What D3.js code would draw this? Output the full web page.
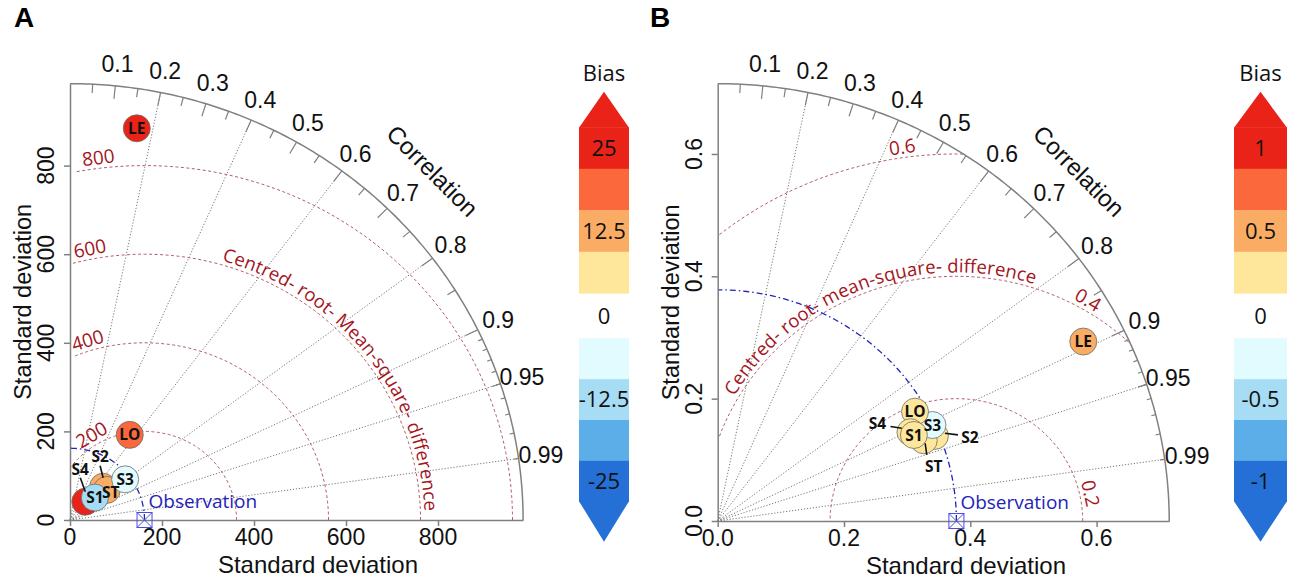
<!DOCTYPE html>
<html><head><meta charset="utf-8">
<script src="https://cdn.jsdelivr.net/npm/d3@7"></script>
<style>body{margin:0;background:#fff}svg{display:block}</style>
</head><body>
<svg id="c" width="1299" height="583"></svg>
<script>
// ---------------- data ----------------
const models = ["LE", "LO", "S1", "S2", "S3", "S4", "ST"];

// Panel A
const sdA   = [896, 232, 74, 104, 151, 53, 105];
const corA  = [0.162, 0.560, 0.730, 0.692, 0.794, 0.627, 0.762];
const biasA = [28, 16, -9, 9, -3, 27, 10];
const obsSdA = 162;
const maxSdA = 985;
const sdTicksA = [0, 200, 400, 600, 800];
const sdTickLabelsA = ["0", "200", "400", "600", "800"];
const rmsA = [200, 400, 600, 800];

// Panel B
const sdB   = [0.649, 0.360, 0.341, 0.371, 0.3745, 0.338, 0.352];
const corB  = [0.892, 0.868, 0.911, 0.927, 0.908, 0.903, 0.927];
const biasB = [0.45, 0.15, 0.12, 0.10, -0.10, 0.10, 0.15];
const obsSdB = 0.378;
const maxSdB = 0.715;
const sdTicksB = [0, 0.2, 0.4, 0.6];
const sdTickLabelsB = ["0.0", "0.2", "0.4", "0.6"];
const rmsB = [0.2, 0.4, 0.6];

const corrLabels = [0.1, 0.2, 0.3, 0.4, 0.5, 0.6, 0.7, 0.8, 0.9, 0.95, 0.99];
const corrLines = [0.2, 0.4, 0.6, 0.8, 0.9, 0.95, 0.99];
const corrBigTicks = [0.1, 0.2, 0.3, 0.4, 0.5, 0.6, 0.7, 0.8, 0.9];
const corrMedTicks = [0.05, 0.15, 0.25, 0.35, 0.45, 0.55, 0.65, 0.75, 0.85, 0.95];
const corrSmlTicks = [0.91, 0.92, 0.93, 0.94, 0.95, 0.96, 0.97, 0.98, 0.99];

const biasColors = ["#2470d6", "#5caee8", "#a6dcf4", "#e2fbfe", "#fee79b", "#fbac64", "#fb683c", "#ea2318"];
const biasBreaksA = [-18.75, -12.5, -6.25, 0, 6.25, 12.5, 18.75];
const biasBreaksB = [-0.75, -0.5, -0.25, 0, 0.25, 0.5, 0.75];
const biasLabelsA = ["25", "12.5", "0", "-12.5", "-25"];
const biasLabelsB = ["1", "0.5", "0", "-0.5", "-1"];

// ---------------- drawing ----------------
const svg = d3.select("#c");
const F_ARIAL = "'Liberation Sans', Arial, sans-serif";
const F_CAL = "'Open Sans', sans-serif";
const AXIS_COL = "#808080";
const RMS_COL = "#b35d6b";
const RMS_TXT = "#a3141d";
const OBS_COL = "#2323b8";

function panel(cfg) {
  const g = svg.append("g");
  const x = d3.scaleLinear().domain([0, cfg.maxSd]).range([cfg.ox, cfg.xEnd]);
  const y = d3.scaleLinear().domain([0, cfg.maxSd]).range([cfg.oy, cfg.yEnd]);
  const line = d3.line().x(d => x(d[0])).y(d => y(d[1]));
  const polar = (r, a) => [r * Math.cos(a), r * Math.sin(a)];
  const M = cfg.maxSd;

  // correlation rays
  cfg.corrLines.forEach(c => {
    g.append("path").attr("d", line([[0, 0], polar(M, Math.acos(c))]))
      .attr("fill", "none").attr("stroke", "#555").attr("stroke-width", 0.8)
      .attr("stroke-dasharray", "1.2,1.8");
  });

  // centred RMS circles
  cfg.rms.forEach(r => {
    const pts = d3.range(0, 181).map(t => {
      const a = t * Math.PI / 180;
      return [cfg.obs + r * Math.cos(a), r * Math.sin(a)];
    }).filter(p => p[0] >= 0 && (p[0] * p[0] + p[1] * p[1]) <= M * M);
    g.append("path").attr("d", line(pts)).attr("fill", "none")
      .attr("stroke", RMS_COL).attr("stroke-width", 1).attr("stroke-dasharray", "3,2.5");
  });
  // RMS labels
  cfg.rms.forEach((r, i) => {
    const a = cfg.rmsLabelAng[i] * Math.PI / 180;
    const p = [cfg.obs + r * Math.cos(a), r * Math.sin(a)];
    const rot = 90 - cfg.rmsLabelAng[i];
    g.append("text").attr("transform", `translate(${x(p[0])},${y(p[1])}) rotate(${rot})`)
      .attr("y", -4).attr("text-anchor", "middle")
      .attr("font-family", F_CAL).attr("font-size", 19).attr("fill", RMS_TXT)
      .text(cfg.rmsFmt(r));
  });

  // RMS title along a circle
  const rT = cfg.rmsTitleR;
  const tpts = d3.range(cfg.rmsTitleA0, cfg.rmsTitleA1 - 0.5, -1).map(t => {
    const a = t * Math.PI / 180;
    return [cfg.obs + rT * Math.cos(a), rT * Math.sin(a)];
  });
  const pid = "tp" + cfg.id;
  svg.append("defs").append("path").attr("id", pid).attr("d", line(tpts));
  g.append("text").attr("font-family", F_CAL).attr("font-size", 18.5).attr("fill", RMS_TXT)
    .attr("dy", -4)
    .append("textPath").attr("href", "#" + pid).attr("startOffset", 0).text(cfg.rmsTitle);

  // reference sd arc
  const refPts = d3.range(0, 91).map(t => polar(cfg.obs, t * Math.PI / 180));
  g.append("path").attr("d", line(refPts)).attr("fill", "none")
    .attr("stroke", OBS_COL).attr("stroke-width", 1.3).attr("stroke-dasharray", "6,3,1.5,3");

  // outer arc
  const outer = d3.range(0, 90.5, 0.5).map(t => polar(M, t * Math.PI / 180));
  g.append("path").attr("d", line(outer)).attr("fill", "none")
    .attr("stroke", AXIS_COL).attr("stroke-width", 1.5);
  const tick = (list, f) => list.forEach(c => {
    const a = Math.acos(c);
    g.append("path").attr("d", line([polar(M, a), polar(M * f, a)]))
      .attr("stroke", AXIS_COL).attr("stroke-width", 1.2);
  });
  tick(cfg.bigTicks, 0.97); tick(cfg.medTicks, 0.98); tick(cfg.smlTicks, 0.99);
  cfg.corrLabels.forEach(c => {
    const p = polar(M * 1.05, Math.acos(c));
    g.append("text").attr("x", x(p[0])).attr("y", y(p[1])).attr("dy", "0.35em")
      .attr("text-anchor", "middle").attr("font-family", F_ARIAL).attr("font-size", 23)
      .attr("fill", "#111").text(c);
  });
  g.append("text").attr("transform", `translate(${x(M * 0.8)},${y(M * 0.8)}) rotate(45)`)
    .attr("dy", "0.35em").attr("text-anchor", "middle").attr("font-family", F_ARIAL)
    .attr("font-size", 24).attr("fill", "#111").text("Correlation");

  // axes
  const ax = g.append("g").attr("transform", `translate(0,${cfg.oy})`)
    .call(d3.axisBottom(x).tickValues(cfg.sdTicks).tickFormat("").tickSize(6).tickSizeOuter(0));
  const ay = g.append("g").attr("transform", `translate(${cfg.ox},0)`)
    .call(d3.axisLeft(y).tickValues(cfg.sdTicks).tickFormat("").tickSize(6).tickSizeOuter(0));
  [ax, ay].forEach(a => {
    a.selectAll("path,line").attr("stroke", AXIS_COL).attr("stroke-width", 1.5);
  });
  cfg.sdTicks.forEach((v, i) => {
    g.append("text").attr("x", x(v)).attr("y", cfg.oy + 17).attr("dy", "0.35em")
      .attr("text-anchor", "middle").attr("font-family", F_ARIAL).attr("font-size", 23)
      .attr("fill", "#111").text(cfg.sdTickLabels[i]);
    g.append("text").attr("transform", `translate(${cfg.ox - 16},${y(v)}) rotate(-90)`)
      .attr("text-anchor", "middle").attr("font-family", F_ARIAL).attr("font-size", 23)
      .attr("fill", "#111").text(cfg.sdTickLabels[i]);
  });
  g.append("text").attr("x", cfg.xTitleX).attr("y", cfg.oy + 45).attr("dy", "0.35em")
    .attr("text-anchor", "middle").attr("font-family", F_ARIAL).attr("font-size", 24)
    .attr("fill", "#111").text("Standard deviation");
  g.append("text").attr("transform", `translate(${cfg.ox - 39},${(cfg.oy + cfg.yEnd) / 2}) rotate(-90)`)
    .attr("text-anchor", "middle").attr("font-family", F_ARIAL).attr("font-size", 23.5)
    .attr("fill", "#111").text("Standard deviation");

  // observation marker
  const ox = x(cfg.obs), oy = y(0), h = 7.5;
  g.append("rect").attr("x", ox - h).attr("y", oy - h).attr("width", 2 * h).attr("height", 2 * h)
    .attr("fill", "none").attr("stroke", "#4b4be6").attr("stroke-width", 1);
  g.append("path").attr("d", `M${ox - h},${oy - h}L${ox + h},${oy + h}M${ox + h},${oy - h}L${ox - h},${oy + h}`)
    .attr("stroke", "#4b4be6").attr("stroke-width", 1);
  g.append("text").attr("x", ox + 4).attr("y", oy - 12).attr("font-family", F_CAL)
    .attr("font-size", 19).attr("fill", OBS_COL).text("Observation");

  // model points
  const color = d3.scaleThreshold().domain(cfg.biasBreaks).range(biasColors);
  const pts = models.map((m, i) => {
    const sd = cfg.sd[i], c = cfg.cor[i];
    return { m, bias: cfg.bias[i], px: x(sd * c), py: y(sd * Math.sqrt(1 - c * c)) };
  });
  const byName = Object.fromEntries(pts.map(p => [p.m, p]));
  cfg.order.forEach(m => {
    const p = byName[m];
    g.append("circle").attr("cx", p.px).attr("cy", p.py).attr("r", 13.5)
      .attr("fill", color(p.bias)).attr("stroke", "#6b6b6b").attr("stroke-width", 0.8);
  });
  cfg.inner.forEach(o => {
    const p = byName[o.m];
    g.append("text").attr("x", p.px + o.dx).attr("y", p.py + o.dy).attr("dy", "0.36em")
      .attr("text-anchor", "middle").attr("font-family", F_CAL).attr("font-weight", 700)
      .attr("font-size", 15.5).attr("fill", "#111").text(o.m);
  });
  cfg.outer.forEach(o => {
    const p = byName[o.m];
    g.append("path").attr("d", `M${p.px + o.l[0]},${p.py + o.l[1]}L${p.px + o.l[2]},${p.py + o.l[3]}`)
      .attr("stroke", "#111").attr("stroke-width", 1.6);
    g.append("text").attr("x", p.px + o.dx).attr("y", p.py + o.dy).attr("dy", "0.36em")
      .attr("text-anchor", "middle").attr("font-family", F_CAL).attr("font-weight", 700)
      .attr("font-size", 15.5).attr("fill", "#111").text(o.m);
  });

  // panel letter
  svg.append("text").attr("x", cfg.letterX).attr("y", 27).attr("font-family", F_ARIAL)
    .attr("font-weight", 700).attr("font-size", 28).attr("fill", "#000").text(cfg.id);

  // colour bar
  const cb = svg.append("g");
  const x0 = cfg.cbX0, x1 = cfg.cbX1, cx = (x0 + x1) / 2;
  const warmY = d3.scaleLinear().domain([0, 4]).range([127.3, 293.3]);
  const coolY = d3.scaleLinear().domain([0, 4]).range([338.3, 501.7]);
  [7, 6, 5, 4].forEach((ci, k) => cb.append("rect").attr("x", x0).attr("y", warmY(k))
    .attr("width", x1 - x0).attr("height", warmY(k + 1) - warmY(k) + 0.3).attr("fill", biasColors[ci]));
  [3, 2, 1, 0].forEach((ci, k) => cb.append("rect").attr("x", x0).attr("y", coolY(k))
    .attr("width", x1 - x0).attr("height", coolY(k + 1) - coolY(k) + 0.3).attr("fill", biasColors[ci]));
  cb.append("path").attr("d", `M${x0},${warmY(0) + 0.5}L${cx},91.7L${x1},${warmY(0) + 0.5}Z`).attr("fill", biasColors[7]);
  cb.append("path").attr("d", `M${x0},${coolY(4) - 0.5}L${cx},541.7L${x1},${coolY(4) - 0.5}Z`).attr("fill", biasColors[0]);
  const labY = [warmY(0.5), warmY(2.5), (warmY(4) + coolY(0)) / 2, coolY(1.5), coolY(3.5)];
  cfg.biasLabels.forEach((t, i) => cb.append("text").attr("x", cx).attr("y", labY[i]).attr("dy", "0.36em")
    .attr("text-anchor", "middle").attr("font-family", F_CAL).attr("font-size", 22)
    .attr("fill", "#111").text(t));
  cb.append("text").attr("x", cx).attr("y", 73).attr("dy", "0.36em").attr("text-anchor", "middle")
    .attr("font-family", F_CAL).attr("font-size", 22).attr("fill", "#111").text("Bias");
}

panel({
  id: "A", ox: 70, oy: 520, xEnd: 70 + 985 * 0.46, yEnd: 520 - 985 * 0.443,
  maxSd: maxSdA, obs: obsSdA, sdTicks: sdTicksA, sdTickLabels: sdTickLabelsA,
  rms: rmsA, rmsFmt: d => d, rmsLabelAng: [121, 107, 101, 97],
  rmsTitle: "Centred- root- Mean-square- difference", rmsTitleR: 600, rmsTitleA0: 74, rmsTitleA1: -4,
  corrLines, corrLabels, bigTicks: corrBigTicks, medTicks: corrMedTicks, smlTicks: corrSmlTicks,
  sd: sdA, cor: corA, bias: biasA, biasBreaks: biasBreaksA, biasLabels: biasLabelsA,
  order: ["S4", "S2", "ST", "S3", "S1", "LO", "LE"],
  inner: [{ m: "LE", dx: 0, dy: 0 }, { m: "LO", dx: 0, dy: 0 }, { m: "S3", dx: 0, dy: 0 },
          { m: "ST", dx: 4, dy: 3 }, { m: "S1", dx: 0, dy: 0 }],
  outer: [{ m: "S2", dx: -3, dy: -30, l: [-3, -21, 0, -9] }, { m: "S4", dx: -5, dy: -32, l: [-5, -24, 0, -10] }],
  xTitleX: 318, letterX: 14, cbX0: 579, cbX1: 629
});

panel({
  id: "B", ox: 717.7, oy: 521, xEnd: 717.7 + 0.715 * 631.5, yEnd: 521 - 0.715 * 611.7,
  maxSd: maxSdB, obs: obsSdB, sdTicks: sdTicksB, sdTickLabels: sdTickLabelsB,
  rms: rmsB, rmsFmt: d => d, rmsLabelAng: [12, 60, 98],
  rmsTitle: "Centred- root- mean-square- difference", rmsTitleR: 0.4, rmsTitleA0: 150, rmsTitleA1: 50,
  corrLines, corrLabels, bigTicks: corrBigTicks, medTicks: corrMedTicks, smlTicks: corrSmlTicks,
  sd: sdB, cor: corB, bias: biasB, biasBreaks: biasBreaksB, biasLabels: biasLabelsB,
  order: ["S2", "ST", "S3", "LO", "S4", "S1", "LE"],
  inner: [{ m: "LE", dx: 0, dy: 0 }, { m: "LO", dx: 0, dy: 0 }, { m: "S3", dx: 0, dy: 0 },
          { m: "S1", dx: 0, dy: 0 }],
  outer: [{ m: "S2", dx: 35, dy: 2, l: [10, -2.7, 23, -1] },
          { m: "S4", dx: -33, dy: -9, l: [-20, -5.6, -8.6, -4] },
          { m: "ST", dx: 10, dy: 26, l: [1.4, 3, 3, 14.7] }],
  xTitleX: 966, letterX: 650, cbX0: 1234, cbX1: 1287
});
</script>
</body></html>
